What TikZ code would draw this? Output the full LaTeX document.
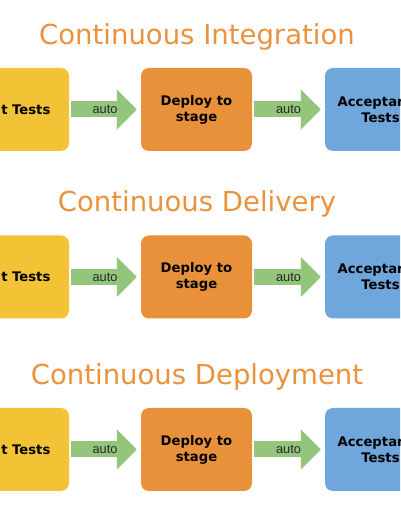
\documentclass[tikz,border=0pt]{standalone}
\usepackage{fontspec}
\setmainfont{DejaVu Sans}
\newfontfamily\autofont{Liberation Sans}
\usetikzlibrary{arrows.meta,calc}
\definecolor{cyellow}{RGB}{242,195,52}
\definecolor{corange}{RGB}{232,145,58}
\definecolor{cblue}{RGB}{111,166,219}
\definecolor{cgreen}{RGB}{147,197,124}
\definecolor{ctitle}{RGB}{234,146,60}
\definecolor{cauto}{RGB}{40,40,40}
\begin{document}
\begin{tikzpicture}[x=1pt,y=1pt,
  stagebox/.style={rounded corners=8pt,minimum width=111pt,minimum height=83pt,
    inner sep=0pt,align=center,font=\bfseries\fontsize{13.2}{16}\selectfont,text=black},
  ybox/.style={stagebox,fill=cyellow},
  obox/.style={stagebox,fill=corange},
  bbox/.style={stagebox,fill=cblue},
  flow/.style={draw=cgreen,line width=16pt,-{Triangle[length=20pt,width=39pt]},
    shorten <=2pt,shorten >=4pt},
  autolbl/.style={font=\autofont\fontsize{12.8}{14}\selectfont,text=cauto,inner sep=0pt},
  title/.style={font=\fontsize{27.5}{30}\selectfont,text=ctitle,anchor=base,inner sep=0pt}]
\clip (0,0) rectangle (400,516);
\fill[white] (0,0) rectangle (400,516);
% row 1
\node[title] (t1) at (197,471) {Continuous Integration};
\node[ybox] (u1) at (13.5,406.5) {Unit Tests};
\node[obox] (d1) at (196.5,406.5) {Deploy to\\stage};
\node[bbox] (a1) at (380.5,406.5) {Acceptance\\Tests};
\draw[flow] (u1.east) -- node[autolbl,pos=0.5] (l1a) {auto} (d1.west);
\draw[flow] (d1.east) -- node[autolbl,pos=0.5] (l1b) {auto} (a1.west);
% row 2
\node[title] (t2) at (197,304.3) {Continuous Delivery};
\node[ybox] (u2) at (13.5,239) {Unit Tests};
\node[obox] (d2) at (196.5,239) {Deploy to\\stage};
\node[bbox] (a2) at (380.5,239) {Acceptance\\Tests};
\draw[flow] (u2.east) -- node[autolbl,pos=0.5] (l2a) {auto} (d2.west);
\draw[flow] (d2.east) -- node[autolbl,pos=0.5] (l2b) {auto} (a2.west);
% row 3
\node[title] (t3) at (197,131.7) {Continuous Deployment};
\node[ybox] (u3) at (13.5,66.5) {Unit Tests};
\node[obox] (d3) at (196.5,66.5) {Deploy to\\stage};
\node[bbox] (a3) at (380.5,66.5) {Acceptance\\Tests};
\draw[flow] (u3.east) -- node[autolbl,pos=0.5] (l3a) {auto} (d3.west);
\draw[flow] (d3.east) -- node[autolbl,pos=0.5] (l3b) {auto} (a3.west);
\end{tikzpicture}
\end{document}
